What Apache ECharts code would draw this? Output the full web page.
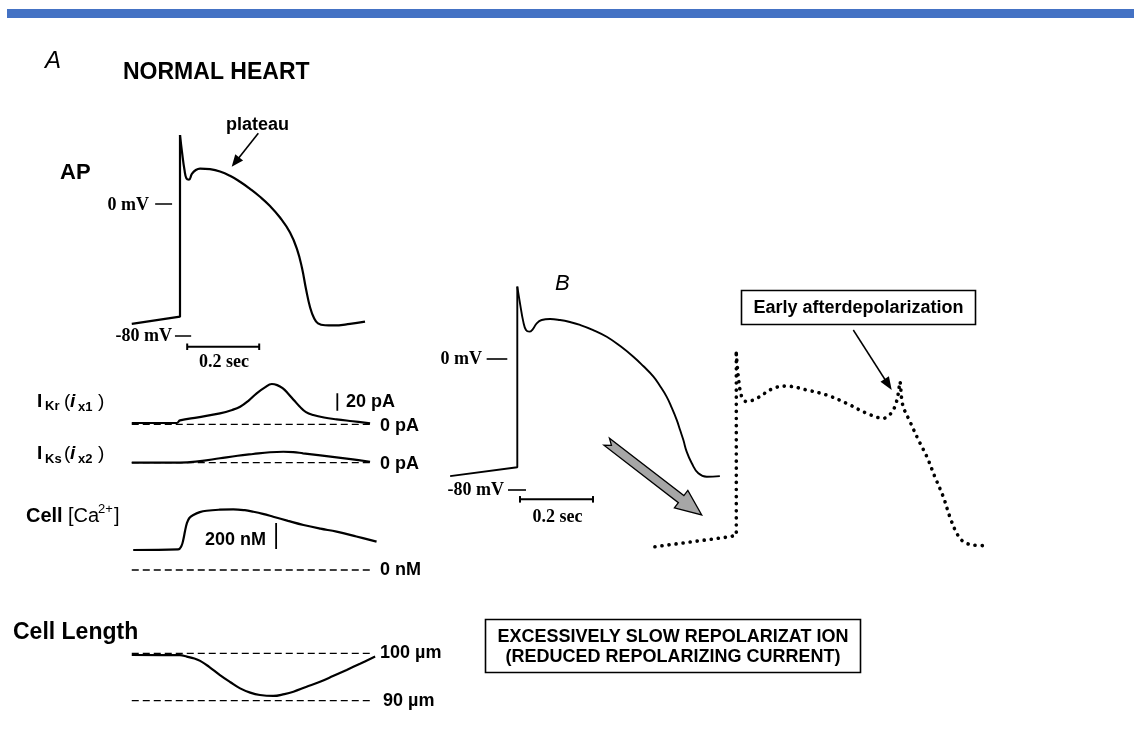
<!DOCTYPE html>
<html><head><meta charset="utf-8">
<script src="https://cdn.jsdelivr.net/npm/echarts@6.0.0/dist/echarts.min.js"></script>
<style>html,body{margin:0;padding:0;background:#fff}#c{width:1134px;height:731px}</style>
</head><body><div id="c"></div>
<script>
// ---------------- DATA (time in s from upstroke, values in physical units) ----------------
const apNormal = [[-0.134,-72.7],[0,-68.3],[0,41.8],[0.0056,31.5],[0.0125,20.6],[0.018,15.5],[0.025,14.8],[0.033,18.2],[0.044,20.6],[0.0556,21.5],[0.0833,21.1],[0.1111,19.7],[0.1389,17.1],[0.1667,13.5],[0.1944,9.2],[0.2222,4.4],[0.25,-1.2],[0.2778,-8.2],[0.3056,-17.3],[0.325,-27.3],[0.3389,-38.8],[0.35,-51.5],[0.3611,-62.4],[0.3722,-69.1],[0.3833,-72.3],[0.4028,-73.5],[0.425,-73.6],[0.4722,-72.7],[0.5139,-71.3]];
const ikr = [[-0.134,1.5],[-0.009,1.5],[0,4.5],[0.05,8],[0.111,12.6],[0.145,16.5],[0.167,20.2],[0.19,27],[0.213,35.6],[0.236,42.5],[0.255,46.3],[0.27,45],[0.285,41.5],[0.3,35.5],[0.318,27],[0.333,20.2],[0.35,14],[0.37,10.7],[0.40,7.8],[0.435,5.7],[0.48,3.5],[0.528,1.1]];
const iks = [[-0.134,0],[0,0],[0.05,1.5],[0.111,5.1],[0.16,8],[0.203,10],[0.25,12],[0.287,12.6],[0.315,12.2],[0.342,10.8],[0.39,8.5],[0.435,6.2],[0.48,3.8],[0.528,1.1]];
const caNormal = [[-0.13,154],[-0.005,159],[0.004,185],[0.009,231],[0.014,300],[0.019,359],[0.026,400],[0.037,423],[0.055,445],[0.074,456],[0.11,464],[0.148,467],[0.18,460],[0.204,448],[0.23,432],[0.259,410],[0.30,378],[0.343,346],[0.39,318],[0.435,295],[0.49,258],[0.546,218]];
const cellLength = [[-0.134,99.64],[0,99.6],[0.019,99.3],[0.04,98.9],[0.056,98.4],[0.08,97.2],[0.111,95.4],[0.14,93.9],[0.167,92.6],[0.195,91.7],[0.222,91.2],[0.259,91.0],[0.29,91.4],[0.315,91.9],[0.35,92.9],[0.389,94.0],[0.425,95.2],[0.463,96.5],[0.50,97.8],[0.542,99.3]];
const apSlow = [[-0.184,-71.5],[0,-66.1],[0,44.2],[0.0074,34.0],[0.0164,22.8],[0.0238,17.7],[0.0329,16.7],[0.0422,18.1],[0.0532,21.8],[0.0668,23.8],[0.0896,24.4],[0.117,23.8],[0.144,22.6],[0.172,20.8],[0.208,17.7],[0.245,13.6],[0.282,7.9],[0.318,1.4],[0.345,-4.3],[0.373,-10.8],[0.391,-16.5],[0.409,-23.0],[0.423,-29.7],[0.437,-37.3],[0.446,-43.4],[0.455,-49.5],[0.464,-56.6],[0.478,-63.7],[0.496,-69.8],[0.519,-71.9],[0.555,-71.5]];
const apEAD = [[-0.223,-73.1],[-0.017,-67],[0,-66],[0,45],[0.0055,30.7],[0.0148,18.5],[0.0285,15.5],[0.056,17.5],[0.101,23.6],[0.138,25],[0.193,22.6],[0.248,19.5],[0.302,14.5],[0.357,8.4],[0.403,5.3],[0.430,10.4],[0.444,20.6],[0.448,27.7],[0.456,13.4],[0.476,3.2],[0.499,-7.9],[0.522,-18.1],[0.544,-30.4],[0.567,-42.6],[0.585,-54.8],[0.604,-64.9],[0.622,-70],[0.649,-72.1],[0.686,-72.5]];
const baselineRange = [-0.134, 0.536];
const voltageTicks = [0, -80];          // mV
const timeScaleBar = 0.2;               // s
const ikrScaleBar = 20;                 // pA
const caScaleBar = 200;                 // nM
const lengthRefs = [100, 90];           // µm

// ---------------- LAYOUT ----------------
const SANS = '"Liberation Sans", Arial, sans-serif';
const SERIF = '"Liberation Serif", "Times New Roman", serif';
const grids = [], xAxes = [], yAxes = [], series = [];
function addGrid(x0px, x0v, sx, y0px, y0v, sy, xr, yr) {
  const gi = grids.length;
  grids.push({left: x0px + (xr[0]-x0v)*sx, top: y0px - (yr[1]-y0v)*sy,
              width: (xr[1]-xr[0])*sx, height: (yr[1]-yr[0])*sy, containLabel:false});
  xAxes.push({type:'value', gridIndex:gi, min:xr[0], max:xr[1], show:false, splitLine:{show:false}});
  yAxes.push({type:'value', gridIndex:gi, min:yr[0], max:yr[1], show:false, splitLine:{show:false}});
  return gi;
}
function S(gi, data, ls, extra) {
  series.push(Object.assign({type:'line', xAxisIndex:gi, yAxisIndex:gi, data:data, symbol:'none',
    silent:true, clip:false, animation:false, lineStyle:Object.assign({color:'#000', width:2.2}, ls)}, extra||{}));
}
// trace split: upstroke part straight, rest smoothed
function trace(gi, data, ls, smooth) {
  let k = 0; data.forEach((p,i)=>{ if (p[1] > data[k][1]) k = i; });
  S(gi, data.slice(0, k+1), ls);
  S(gi, data.slice(k), ls, {smooth: smooth});
}
const DASH = {type:[7,4], width:1.3};

// Panel A
const gAP = addGrid(180, 0, 360, 204, 0, 1.65, [-0.2, 0.6], [-95, 50]);
const gKr = addGrid(180, 0, 360, 424.3, 0, 0.87, [-0.2, 0.6], [-5, 55]);
const gKs = addGrid(180, 0, 360, 462.7, 0, 0.87, [-0.2, 0.6], [-5, 20]);
const gCa = addGrid(180, 0, 360, 570, 0, 0.13, [-0.2, 0.6], [-20, 500]);
const gLen = addGrid(180, 0, 360, 653.3, 100, 4.74, [-0.2, 0.6], [88, 101]);
// Panel B
const gB = addGrid(517.3, 0, 365, 359, 0, 1.6375, [-0.25, 0.6], [-95, 50]);
const gE = addGrid(736.3, 0, 365, 427, 0, 1.6375, [-0.25, 0.75], [-95, 50]);

trace(gAP, apNormal, {}, 0.45);
S(gAP, [[-0.069, voltageTicks[0]],[-0.022, voltageTicks[0]]], {width:1.6});
S(gAP, [[-0.014, voltageTicks[1]],[0.031, voltageTicks[1]]], {width:1.6});
S(gAP, [[0.02,-86.5],[0.02+timeScaleBar,-86.5]], {width:2});
S(gAP, [[0.02,-84.5],[0.02,-88.5]], {width:2});
S(gAP, [[0.02+timeScaleBar,-84.5],[0.02+timeScaleBar,-88.5]], {width:2});

S(gKr, [[baselineRange[0],0],[baselineRange[1],0]], DASH);
S(gKr, ikr, {width:2.2}, {smooth:0.4});
S(gKr, [[0.437,15.6],[0.437,15.6+ikrScaleBar]], {width:1.8});

S(gKs, [[baselineRange[0],0],[baselineRange[1],0]], DASH);
S(gKs, iks, {width:2.2}, {smooth:0.4});

S(gCa, [[baselineRange[0],0],[baselineRange[1],0]], DASH);
S(gCa, caNormal, {width:2.2}, {smooth:0.4});
S(gCa, [[0.267,161],[0.267,161+caScaleBar]], {width:1.8});

S(gLen, [[baselineRange[0],lengthRefs[0]],[baselineRange[1],lengthRefs[0]]], DASH);
S(gLen, [[baselineRange[0],lengthRefs[1]],[baselineRange[1],lengthRefs[1]]], DASH);
S(gLen, cellLength, {width:2.2}, {smooth:0.4});

trace(gB, apSlow, {width:1.9}, 0.45);
S(gB, [[-0.084, voltageTicks[0]],[-0.0274, voltageTicks[0]]], {width:1.6});
S(gB, [[-0.0255, voltageTicks[1]],[0.0238, voltageTicks[1]]], {width:1.6});
S(gB, [[0.0074,-85.7],[0.0074+timeScaleBar,-85.7]], {width:2});
S(gB, [[0.0074,-83.7],[0.0074,-87.7]], {width:2});
S(gB, [[0.0074+timeScaleBar,-83.7],[0.0074+timeScaleBar,-87.7]], {width:2});

trace(gE, apEAD, {type:[0.1,7], cap:'round', width:3.6}, 0.35);

// ---------------- ANNOTATIONS ----------------
const G = [];
function T(x, y, text, font, align) {
  G.push({type:'text', x:x, y:y, silent:true, z:10,
    style:{text:text, font:font, fill:'#000', align:align||'left', verticalAlign:'middle',
           textAlign:align||'left', textVerticalAlign:'middle'}});
}
function arrowLine(x1,y1,x2,y2,w,hl,hw) {
  const L = Math.hypot(x2-x1,y2-y1), ux=(x2-x1)/L, uy=(y2-y1)/L, nx=-uy, ny=ux;
  const bx = x2-ux*hl, by = y2-uy*hl;
  G.push({type:'line', silent:true, shape:{x1:x1,y1:y1,x2:bx+ux*2,y2:by+uy*2}, style:{stroke:'#000', lineWidth:w}});
  G.push({type:'polygon', silent:true, shape:{points:[[x2,y2],[bx+nx*hw,by+ny*hw],[bx-nx*hw,by-ny*hw]]}, style:{fill:'#000'}});
}
function blockArrow(x1,y1,x2,y2,h,H,hl,nd) {
  const L = Math.hypot(x2-x1,y2-y1), ux=(x2-x1)/L, uy=(y2-y1)/L, nx=-uy, ny=ux;
  const P = (a,b)=>[x1+ux*a+nx*b, y1+uy*a+ny*b];
  G.push({type:'polygon', silent:true, shape:{points:[P(nd,0),P(0,-h),P(L-hl,-h),P(L-hl,-H),P(L,0),P(L-hl,H),P(L-hl,h),P(0,h)]},
    style:{fill:'#a6a6a6', stroke:'#000', lineWidth:1.3}});
}
G.push({type:'rect', silent:true, shape:{x:7, y:9, width:1127, height:9}, style:{fill:'#4472C4'}});
T(45, 61, 'A', 'italic 24px ' + SANS);
T(123, 73, 'NORMAL HEART', 'bold 23px ' + SANS);
T(226, 125, 'plateau', 'bold 18px ' + SANS);
arrowLine(258.3,133.3,231.7,166.7,1.6,12,5);
T(60, 173, 'AP', 'bold 22px ' + SANS);
T(149, 205, '0 mV', 'bold 18px ' + SERIF, 'right');
T(172, 336, '-80 mV', 'bold 18px ' + SERIF, 'right');
T(224, 362, '0.2 sec', 'bold 18px ' + SERIF, 'center');
// I_Kr label
T(37, 401.5, 'I', 'bold 19px ' + SANS);
T(45, 406.5, 'Kr', 'bold 13px ' + SANS);
T(64, 401.5, '(', '19px ' + SANS);
T(70, 401.5, 'i', 'bold italic 19px ' + SANS);
T(78, 407, 'x1', 'bold 13px ' + SANS);
T(98, 401.5, ')', '19px ' + SANS);
// I_Ks label
T(37, 454, 'I', 'bold 19px ' + SANS);
T(45, 459, 'Ks', 'bold 13px ' + SANS);
T(64, 454, '(', '19px ' + SANS);
T(70, 454, 'i', 'bold italic 19px ' + SANS);
T(78, 459.5, 'x2', 'bold 13px ' + SANS);
T(98, 454, ')', '19px ' + SANS);
T(346, 402.5, '20 pA', 'bold 18px ' + SANS);
T(380, 426.5, '0 pA', 'bold 18px ' + SANS);
T(380, 464.5, '0 pA', 'bold 18px ' + SANS);
// Ca label
T(26, 516, 'Cell', 'bold 20px ' + SANS);
T(68, 516, '[Ca', '20px ' + SANS);
T(98, 509, '2+', '13px ' + SANS);
T(114, 516, ']', '20px ' + SANS);
T(266, 540, '200 nM', 'bold 18px ' + SANS, 'right');
T(380, 570.5, '0 nM', 'bold 18px ' + SANS);
T(13, 633, 'Cell Length', 'bold 23px ' + SANS);
T(380, 653.5, '100 \u00b5m', 'bold 18px ' + SANS);
T(383, 701, '90 \u00b5m', 'bold 18px ' + SANS);
// Panel B
T(555, 284, 'B', 'italic 22px ' + SANS);
T(482, 359, '0 mV', 'bold 18px ' + SERIF, 'right');
T(504, 490, '-80 mV', 'bold 18px ' + SERIF, 'right');
T(557.5, 517, '0.2 sec', 'bold 18px ' + SERIF, 'center');
blockArrow(606.7,441.7,701.7,515,4.5,11,26,6);
G.push({type:'rect', silent:true, shape:{x:741.5, y:290.5, width:234, height:34}, style:{fill:'#fff', stroke:'#000', lineWidth:1.6}});
T(858.5, 308, 'Early afterdepolarization', 'bold 18px ' + SANS, 'center');
arrowLine(853.3,330,891.7,390,1.5,13,5);
G.push({type:'rect', silent:true, shape:{x:485.5, y:619.5, width:375, height:53}, style:{fill:'#fff', stroke:'#000', lineWidth:1.6}});
T(673, 637, 'EXCESSIVELY SLOW REPOLARIZAT ION', 'bold 18px ' + SANS, 'center');
T(673, 657, '(REDUCED REPOLARIZING CURRENT)', 'bold 18px ' + SANS, 'center');

const chart = echarts.init(document.getElementById('c'), null, {renderer:'canvas'});
chart.setOption({
  animation:false, backgroundColor:'#fff',
  grid:grids, xAxis:xAxes, yAxis:yAxes, series:series, graphic:G
});
</script></body></html>
